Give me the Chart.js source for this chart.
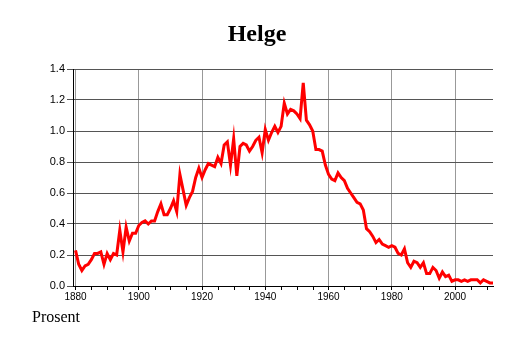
<!DOCTYPE html>
<html>
<head>
<meta charset="utf-8">
<title>Helge</title>
<script src="https://cdn.jsdelivr.net/npm/chart.js@4/dist/chart.umd.min.js"></script>
<style>
  html, body { margin: 0; padding: 0; background: #fff; }
  #wrap { width: 514px; height: 343px; position: relative; }
</style>
</head>
<body>
<div id="wrap"><canvas id="nameChart" width="514" height="343"></canvas></div>
<script>
// Data
const title = 'Helge';
const unitLabel = 'Prosent';
const startYear = 1880;
const values = [
  0.23, 0.14, 0.10, 0.13, 0.14, 0.17, 0.21, 0.21, 0.22, 0.14,
  0.21, 0.17, 0.21, 0.20, 0.36, 0.22, 0.38, 0.29, 0.34, 0.34,
  0.39, 0.41, 0.42, 0.40, 0.42, 0.42, 0.48, 0.53, 0.46, 0.46,
  0.50, 0.55, 0.48, 0.72, 0.62, 0.52, 0.57, 0.61, 0.70, 0.76,
  0.70, 0.75, 0.79, 0.78, 0.77, 0.83, 0.79, 0.91, 0.93, 0.78,
  0.95, 0.71, 0.90, 0.92, 0.91, 0.87, 0.90, 0.94, 0.96, 0.86,
  1.01, 0.94, 0.99, 1.03, 0.99, 1.03, 1.18, 1.11, 1.14, 1.13,
  1.11, 1.08, 1.31, 1.07, 1.04, 1.00, 0.88, 0.88, 0.87, 0.78,
  0.72, 0.69, 0.68, 0.73, 0.70, 0.68, 0.63, 0.60, 0.57, 0.54,
  0.53, 0.49, 0.37, 0.35, 0.32, 0.28, 0.30, 0.27, 0.26, 0.25,
  0.26, 0.25, 0.21, 0.20, 0.24, 0.15, 0.12, 0.16, 0.15, 0.12,
  0.15, 0.08, 0.08, 0.12, 0.10, 0.05, 0.09, 0.06, 0.07, 0.03,
  0.04, 0.04, 0.03, 0.04, 0.03, 0.04, 0.04, 0.04, 0.02, 0.04,
  0.03, 0.02, 0.02
];
const years = values.map((v, i) => startYear + i);
const xTicks = [1880, 1900, 1920, 1940, 1960, 1980, 2000];
const yTicks = [0, 0.2, 0.4, 0.6, 0.8, 1.0, 1.2, 1.4];

// chart area in the 514x343 picture
const area = { left: 73, top: 69, right: 493, bottom: 286 };

// title, caption and the small 5-year ticks under the x axis
const decorPlugin = {
  id: 'decor',
  afterDraw(chart) {
    const ctx = chart.ctx;
    const x = chart.scales.x;
    ctx.save();
    ctx.strokeStyle = '#000';
    ctx.lineWidth = 1;
    for (let yr = 1880; yr <= 2010; yr += 5) {
      if (yr % 20 === 0) continue;
      const px = Math.round(x.getPixelForValue(yr)) + 0.5;
      ctx.beginPath();
      ctx.moveTo(px, area.bottom);
      ctx.lineTo(px, area.bottom + 4);
      ctx.stroke();
    }
    ctx.fillStyle = '#000';
    ctx.textAlign = 'center';
    ctx.textBaseline = 'alphabetic';
    ctx.font = 'bold 24px "Liberation Serif", serif';
    ctx.fillText(title, 257, 41);
    ctx.textAlign = 'left';
    ctx.font = '16px "Liberation Serif", serif';
    ctx.fillText(unitLabel, 32, 322);
    ctx.restore();
  }
};

new Chart(document.getElementById('nameChart'), {
  type: 'line',
  data: {
    datasets: [{
      data: years.map((yr, i) => ({ x: yr, y: values[i] })),
      borderColor: '#ff0000',
      borderWidth: 3,
      pointRadius: 0,
      tension: 0,
      fill: false
    }]
  },
  options: {
    responsive: false,
    animation: false,
    events: [],
    layout: { padding: { top: area.top, right: 514 - area.right, bottom: 0, left: 0 } },
    plugins: {
      legend: { display: false },
      tooltip: { enabled: false },
      title: { display: false }
    },
    scales: {
      x: {
        type: 'linear',
        min: 1879.2,
        max: 2012,
        afterFit: s => { s.height = 343 - area.bottom; },
        afterBuildTicks: s => { s.ticks = xTicks.map(v => ({ value: v })); },
        grid: { color: '#999', lineWidth: 1, drawTicks: true, tickLength: 4, tickColor: '#000' },
        border: { display: true, color: '#000', width: 1 },
        ticks: {
          color: '#000',
          padding: 1,
          maxRotation: 0,
          font: { family: '"Liberation Sans", Arial, sans-serif', size: 10 },
          callback: v => String(v)
        }
      },
      y: {
        min: 0,
        max: 1.4,
        afterFit: s => { s.width = area.left; },
        afterBuildTicks: s => { s.ticks = yTicks.map(v => ({ value: v })); },
        grid: { color: '#555', lineWidth: 1, drawTicks: true, tickLength: 6, tickColor: '#555' },
        border: { display: true, color: '#000', width: 1 },
        ticks: {
          color: '#000',
          padding: 2,
          font: { family: '"Liberation Sans", Arial, sans-serif', size: 11 },
          callback: v => v.toFixed(1)
        }
      }
    }
  },
  plugins: [decorPlugin]
});
</script>
</body>
</html>
